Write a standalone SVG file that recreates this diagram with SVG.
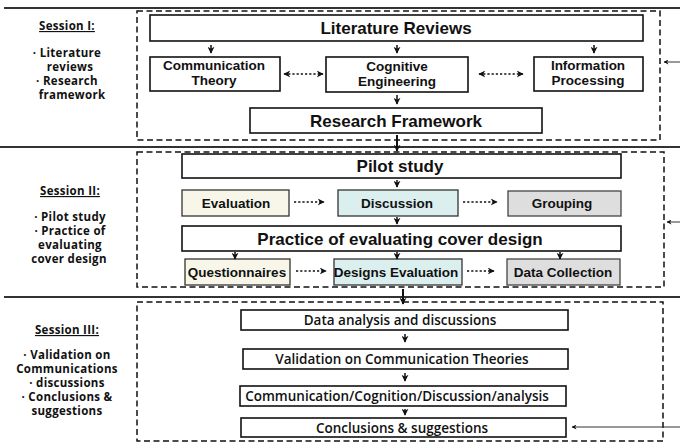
<svg xmlns="http://www.w3.org/2000/svg" width="680" height="443" viewBox="0 0 680 443">
<defs>
<marker id="ah" viewBox="0 0 10 10" refX="9" refY="5" markerWidth="7" markerHeight="7" markerUnits="userSpaceOnUse" orient="auto-start-reverse">
<path d="M0,0 L10,5 L0,10 L3,5 Z" fill="#111"/>
</marker>
<marker id="ahs" viewBox="0 0 10 10" refX="9" refY="5" markerWidth="5" markerHeight="5" markerUnits="userSpaceOnUse" orient="auto-start-reverse">
<path d="M0,0 L10,5 L0,10 L3,5 Z" fill="#111"/>
</marker>
<style>
.sep{stroke:#333;stroke-width:1.8;fill:none}
.dbox{fill:none;stroke:#111;stroke-width:1.5;stroke-dasharray:6,3.5}
.box{fill:#fff;stroke:#111;stroke-width:1.6}
.cream{fill:#f8f6e9;stroke:#333;stroke-width:1.3}
.blue{fill:#dcefef;stroke:#333;stroke-width:1.3}
.gray{fill:#dedede;stroke:#444;stroke-width:1.3}
.big{font-family:"Liberation Sans",Arial,sans-serif;font-weight:bold;font-size:17px;fill:#111;text-anchor:middle}
.mid{font-family:"Liberation Sans",Arial,sans-serif;font-weight:bold;font-size:13.5px;fill:#111;text-anchor:middle}
.sm{font-family:"Open Sans",sans-serif;font-weight:600;font-size:13.5px;fill:#111;text-anchor:middle}
.lab{font-family:"Open Sans",sans-serif;font-weight:700;font-size:11.5px;letter-spacing:0.3px;fill:#111;text-anchor:middle}
.ul{text-decoration:underline}
.dn{stroke:#111;stroke-width:1.5;fill:none;marker-end:url(#ah)}
.dot{stroke:#111;stroke-width:1.6;fill:none;stroke-dasharray:2.2,2;marker-end:url(#ah)}
.dot2{stroke:#111;stroke-width:1.6;fill:none;stroke-dasharray:2.2,2;marker-end:url(#ah);marker-start:url(#ah)}
.fb{stroke:#333;stroke-width:1;fill:none;marker-end:url(#ahs)}
</style>
</defs>
<g id="frame">
<line class="sep" x1="4" y1="8" x2="680" y2="8"/>
<line class="sep" x1="0" y1="147" x2="680" y2="147"/>
<line class="sep" x1="4" y1="297" x2="680" y2="297"/>
<rect class="dbox" x="137" y="11" width="523" height="129"/>
<rect class="dbox" x="137" y="152" width="527" height="135"/>
<rect class="dbox" x="137" y="302" width="526" height="139"/>
</g>
<g id="session1-label">
<text class="lab ul" x="67" y="30">Session I:</text>
<text class="lab" x="67" y="57">· Literature</text>
<text class="lab" x="70" y="71">reviews</text>
<text class="lab" x="67" y="85">· Research</text>
<text class="lab" x="72" y="99">framework</text>
</g>
<g id="session2-label">
<text class="lab ul" x="70" y="195">Session II:</text>
<text class="lab" x="70" y="221">· Pilot study</text>
<text class="lab" x="70" y="235">· Practice of</text>
<text class="lab" x="70" y="249">evaluating</text>
<text class="lab" x="69" y="263">cover design</text>
</g>
<g id="session3-label">
<text class="lab ul" x="67" y="334">Session III:</text>
<text class="lab" x="67" y="359">· Validation on</text>
<text class="lab" x="67" y="373">Communications</text>
<text class="lab" x="67" y="387">· discussions</text>
<text class="lab" x="67" y="401">· Conclusions &amp;</text>
<text class="lab" x="67" y="415">suggestions</text>
</g>
<g id="literature-reviews">
<rect class="box" x="150" y="15" width="493" height="26"/>
<text class="big" x="396" y="34">Literature Reviews</text>
</g>
<g id="communication-theory">
<rect class="box" x="150" y="57" width="130" height="34"/>
<text class="mid" x="214" y="70">Communication</text>
<text class="mid" x="214" y="85">Theory</text>
</g>
<g id="cognitive-engineering">
<rect class="box" x="326" y="57" width="142" height="35"/>
<text class="mid" x="397" y="71">Cognitive</text>
<text class="mid" x="397" y="86">Engineering</text>
</g>
<g id="information-processing">
<rect class="box" x="534" y="57" width="109" height="34"/>
<text class="mid" x="588" y="70">Information</text>
<text class="mid" x="588" y="85">Processing</text>
</g>
<g id="research-framework">
<rect class="box" x="250" y="108" width="292" height="25"/>
<text class="big" x="396" y="127">Research Framework</text>
</g>
<g id="pilot-study">
<rect class="box" x="182" y="154" width="439" height="24"/>
<text class="big" x="400" y="172">Pilot study</text>
</g>
<g id="evaluation">
<rect class="cream" x="182" y="190" width="107" height="26"/>
<text class="mid" x="236" y="208">Evaluation</text>
</g>
<g id="discussion">
<rect class="blue" x="338" y="190" width="120" height="26"/>
<text class="mid" x="397" y="208">Discussion</text>
</g>
<g id="grouping">
<rect class="gray" x="508" y="191" width="113" height="25"/>
<text class="mid" x="562" y="208">Grouping</text>
</g>
<g id="practice">
<rect class="box" x="182" y="226" width="439" height="25"/>
<text class="big" x="400" y="245">Practice of evaluating cover design</text>
</g>
<g id="questionnaires">
<rect class="cream" x="185" y="259" width="105" height="26"/>
<text class="mid" x="237" y="277">Questionnaires</text>
</g>
<g id="designs-evaluation">
<rect class="blue" x="334" y="259" width="128" height="26"/>
<text class="mid" x="396" y="277">Designs Evaluation</text>
</g>
<g id="data-collection">
<rect class="gray" x="507" y="259" width="113" height="26"/>
<text class="mid" x="563" y="277">Data Collection</text>
</g>
<g id="data-analysis">
<rect class="box" x="241" y="310" width="327" height="20"/>
<text class="sm" x="400" y="325">Data analysis and discussions</text>
</g>
<g id="validation">
<rect class="box" x="243" y="349" width="325" height="20"/>
<text class="sm" x="402" y="364">Validation on Communication Theories</text>
</g>
<g id="comm-cognition">
<rect class="box" x="240" y="386" width="326" height="20"/>
<text class="sm" x="397" y="401">Communication/Cognition/Discussion/analysis</text>
</g>
<g id="conclusions">
<rect class="box" x="241" y="418" width="325" height="19"/>
<text class="sm" x="402" y="432.5">Conclusions &amp; suggestions</text>
</g>
<g id="connectors">
<line class="dn" x1="211" y1="45" x2="211" y2="53"/>
<line class="dn" x1="397" y1="45" x2="397" y2="53"/>
<line class="dn" x1="594" y1="45" x2="594" y2="53"/>
<line class="dot2" x1="284" y1="74" x2="323" y2="74"/>
<line class="dot2" x1="479" y1="74" x2="523" y2="74"/>
<line class="dn" x1="397" y1="95" x2="397" y2="104"/>
<line class="dn" x1="397" y1="135" x2="397" y2="151" style="stroke-width:2"/>
<line class="dn" x1="397" y1="180" x2="397" y2="187"/>
<line class="dot" x1="294" y1="202" x2="324" y2="202"/>
<line class="dot" x1="463" y1="202" x2="497" y2="202"/>
<line class="dn" x1="397" y1="217" x2="397" y2="224"/>
<line class="dn" x1="235" y1="252" x2="235" y2="259"/>
<line class="dn" x1="397" y1="252" x2="397" y2="259"/>
<line class="dn" x1="560" y1="252" x2="560" y2="259"/>
<line class="dot" x1="296" y1="271" x2="326" y2="271"/>
<line class="dot" x1="467" y1="271" x2="494" y2="271"/>
<line class="dn" x1="403" y1="289" x2="403" y2="304" style="stroke-width:2"/>
<line class="dn" x1="405" y1="334" x2="405" y2="342"/>
<line class="dn" x1="405" y1="373" x2="405" y2="381"/>
<line class="dn" x1="405" y1="409" x2="405" y2="415"/>
<line class="fb" x1="680" y1="62" x2="664" y2="62"/>
<line class="fb" x1="680" y1="222" x2="667" y2="222"/>
<line class="fb" x1="680" y1="427" x2="572" y2="427"/>
</g>
</svg>
